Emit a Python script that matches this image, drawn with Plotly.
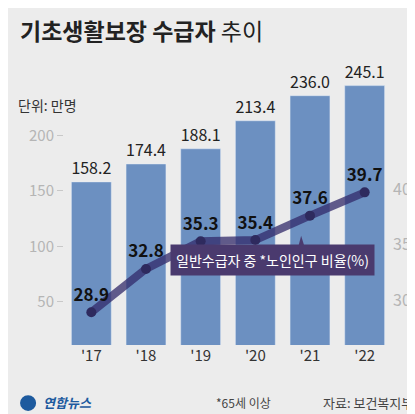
import plotly.graph_objects as go

years = ["'17", "'18", "'19", "'20", "'21", "'22"]
recipients = [158.2, 174.4, 188.1, 213.4, 236.0, 245.1]
elderly_ratio = [28.9, 32.8, 35.3, 35.4, 37.6, 39.7]
left_ticks = [50, 100, 150, 200]
right_ticks = [30, 35, 40]

font = "Noto Sans CJK KR"
bg = "#ececec"
purple = "#4a3a6e"

fig = go.Figure()

fig.add_trace(go.Bar(
    x=list(range(len(years))), y=recipients,
    marker=dict(color="#6c90c1"), width=0.73,
    text=[f"{v:.1f}" for v in recipients], textposition="outside",
    textfont=dict(size=17, color="#222", family=font),
    cliponaxis=False,
))

# thick translucent line, then dots with labels on top
fig.add_trace(go.Scatter(
    x=list(range(len(years))), y=elderly_ratio, yaxis="y2",
    mode="lines", line=dict(color="rgba(50,42,105,0.75)", width=8),
    hoverinfo="skip",
))
fig.add_trace(go.Scatter(
    x=list(range(len(years))), y=elderly_ratio, yaxis="y2",
    mode="markers+text", marker=dict(color="#2e2a5e", size=10),
    text=[f"<b>{v:.1f}</b>" for v in elderly_ratio], textposition="top center",
    textfont=dict(size=17, color="#111", family=font),
    cliponaxis=False,
))

fig.update_layout(
    width=415, height=414,
    margin=dict(l=56, r=31, t=60, b=77),
    paper_bgcolor=bg, plot_bgcolor=bg,
    showlegend=False,
    font=dict(family=font),
    xaxis=dict(
        range=[-0.5, 5.5], tickmode="array",
        tickvals=list(range(len(years))), ticktext=years,
        showgrid=False, zeroline=False, ticks="", automargin=False,
        tickfont=dict(size=15, color="#333"),
    ),
    yaxis=dict(
        range=[11, 261], tickvals=left_ticks, showgrid=False, zeroline=False,
        ticks="outside", ticklen=6, tickcolor="#c8c8c8", automargin=False,
        tickfont=dict(size=15, color="#b5b5b5"),
    ),
    yaxis2=dict(
        range=[25.95, 50.9], tickvals=right_ticks, overlaying="y", side="right",
        showgrid=False, zeroline=False, automargin=False,
        tickfont=dict(size=16, color="#b5b5b5"),
    ),
    annotations=[
        dict(text="<b>기초생활보장 수급자</b> 추이", x=-0.14, y=1.137, xref="paper", yref="paper",
             xanchor="left", yanchor="middle", showarrow=False,
             font=dict(size=23, color="#222", family=font)),
        dict(text="단위: 만명", x=-0.146, y=0.866, xref="paper", yref="paper", xanchor="left",
             yanchor="middle", showarrow=False,
             font=dict(size=14, color="#333", family=font)),
        dict(text="일반수급자 중 *노인인구 비율(%)", x=0.637, y=0.249, xref="paper", yref="paper",
             showarrow=False, bgcolor=purple, borderpad=5,
             font=dict(size=14, color="white", family=font)),
        dict(text="<b><i>연합뉴스</i></b>", x=-0.07, y=-0.209, xref="paper", yref="paper",
             xanchor="left", yanchor="middle", showarrow=False,
             font=dict(size=13, color="#1d5a9e", family=font)),
        dict(text="*65세 이상", x=0.546, y=-0.209, xref="paper", yref="paper", xanchor="center",
             yanchor="middle", showarrow=False,
             font=dict(size=12, color="#444", family=font)),
        dict(text="자료: 보건복지부", x=1.07, y=-0.209, xref="paper", yref="paper", xanchor="right",
             yanchor="middle", showarrow=False,
             font=dict(size=13, color="#444", family=font)),
    ],
    shapes=[
        dict(type="path", xref="paper", yref="paper",
             path="M 0.70 0.29 L 0.723 0.394 L 0.75 0.29 Z",
             fillcolor=purple, line=dict(width=0)),
        dict(type="circle", xref="paper", yref="paper", x0=-0.134, x1=-0.085,
             y0=-0.238, y1=-0.181, fillcolor="#1d5a9e", line=dict(width=0)),
    ],
)

fig.write_html("out.html")
